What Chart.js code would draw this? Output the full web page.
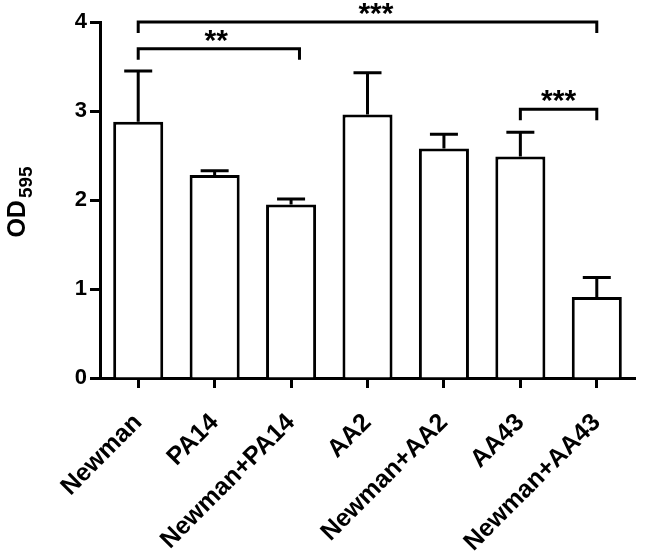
<!DOCTYPE html>
<html lang="en">
<head>
<meta charset="UTF-8">
<title>OD595</title>
<script src="https://cdn.jsdelivr.net/npm/chart.js"></script>
<style>
  body { margin: 0; background: #fff; }
</style>
</head>
<body>
<canvas id="odChart" width="645" height="555"></canvas>
<script>
const strains = ['Newman', 'PA14', 'Newman+PA14', 'AA2', 'Newman+AA2', 'AA43', 'Newman+AA43'];
const odMeans = [2.88, 2.28, 1.95, 2.96, 2.58, 2.49, 0.91];
const odErrors = [0.57, 0.05, 0.06, 0.47, 0.16, 0.27, 0.22];
const yTicks = [0, 1, 2, 3, 4];

// significance brackets (category positions, OD level)
const bracketFrom = [0, 0, 5];
const bracketTo = [6, 2.11, 6];
const bracketLevel = [4.0, 3.70, 3.02];
const bracketText = ['***', '**', '***'];
const bracketTextAt = [3.11, 1.02, 5.5];

const FONT = '"Liberation Sans", Arial, sans-serif';

const errorBars = {
  id: 'errorBars',
  afterDatasetsDraw(chart) {
    const ctx = chart.ctx;
    const xs = chart.scales.x, ys = chart.scales.y;
    ctx.save();
    ctx.strokeStyle = '#000';
    ctx.lineWidth = 3;
    odMeans.forEach((m, i) => {
      const x = xs.getPixelForValue(i);
      const y0 = ys.getPixelForValue(m);
      const y1 = ys.getPixelForValue(m + odErrors[i]);
      ctx.beginPath();
      ctx.moveTo(x, y0);
      ctx.lineTo(x, y1);
      ctx.moveTo(x - 14, y1);
      ctx.lineTo(x + 14, y1);
      ctx.stroke();
    });
    ctx.restore();
  }
};

const brackets = {
  id: 'brackets',
  afterDraw(chart) {
    const ctx = chart.ctx;
    const xs = chart.scales.x, ys = chart.scales.y;
    ctx.save();
    ctx.strokeStyle = '#000';
    ctx.fillStyle = '#000';
    ctx.lineWidth = 3;
    ctx.lineJoin = 'miter';
    ctx.font = 'bold 30px ' + FONT;
    ctx.textAlign = 'center';
    ctx.textBaseline = 'alphabetic';
    bracketLevel.forEach((lv, i) => {
      const x1 = xs.getPixelForValue(bracketFrom[i]);
      const x2 = xs.getPixelForValue(bracketTo[i]);
      const y = ys.getPixelForValue(lv);
      ctx.beginPath();
      ctx.moveTo(x1, y + 11);
      ctx.lineTo(x1, y);
      ctx.lineTo(x2, y);
      ctx.lineTo(x2, y + 11);
      ctx.stroke();
      ctx.fillText(bracketText[i], xs.getPixelForValue(bracketTextAt[i]), y + 1);
    });
    ctx.restore();
  }
};

const yTitle = {
  id: 'yTitle',
  afterDraw(chart) {
    const ctx = chart.ctx;
    const cy = (chart.chartArea.top + chart.chartArea.bottom) / 2 + 2;
    ctx.save();
    ctx.fillStyle = '#000';
    ctx.translate(25, cy);
    ctx.rotate(-Math.PI / 2);
    ctx.font = 'bold 25px ' + FONT;
    const w1 = ctx.measureText('OD').width;
    ctx.font = 'bold 19px ' + FONT;
    const w2 = ctx.measureText('595').width;
    const start = -(w1 + 2 + w2) / 2;
    ctx.textAlign = 'left';
    ctx.textBaseline = 'alphabetic';
    ctx.font = 'bold 25px ' + FONT;
    ctx.fillText('OD', start, 0);
    ctx.font = 'bold 19px ' + FONT;
    ctx.fillText('595', start + w1 + 2, 6.5);
    ctx.restore();
  }
};

new Chart(document.getElementById('odChart'), {
  type: 'bar',
  data: {
    labels: strains,
    datasets: [{
      data: odMeans,
      backgroundColor: '#fff',
      borderColor: '#000',
      borderWidth: 3,
      borderSkipped: 'start',
      barPercentage: 0.655,
      categoryPercentage: 1
    }]
  },
  options: {
    responsive: false,
    animation: false,
    layout: { padding: { top: 22, right: 10, left: 0, bottom: 0 } },
    plugins: {
      legend: { display: false },
      tooltip: { enabled: false }
    },
    scales: {
      x: {
        afterFit: s => { s.height = 177; },
        grid: {
          offset: false,
          drawOnChartArea: false,
          tickLength: 10,
          tickWidth: 3,
          tickColor: '#000'
        },
        border: { display: true, width: 3, color: '#000' },
        ticks: {
          color: '#000',
          font: { family: FONT, size: 25, weight: 'bold' },
          maxRotation: 45,
          minRotation: 45,
          autoSkip: false,
          padding: 20
        }
      },
      y: {
        min: 0,
        max: 4,
        afterFit: s => { s.width = 100; },
        afterBuildTicks: s => { s.ticks = yTicks.map(v => ({ value: v })); },
        grid: {
          drawOnChartArea: false,
          tickLength: 10,
          tickWidth: 3,
          tickColor: '#000'
        },
        border: { display: true, width: 3, color: '#000' },
        ticks: {
          color: '#000',
          font: { family: FONT, size: 22, weight: 'bold' },
          padding: 3
        }
      }
    }
  },
  plugins: [errorBars, brackets, yTitle]
});
</script>
</body>
</html>
